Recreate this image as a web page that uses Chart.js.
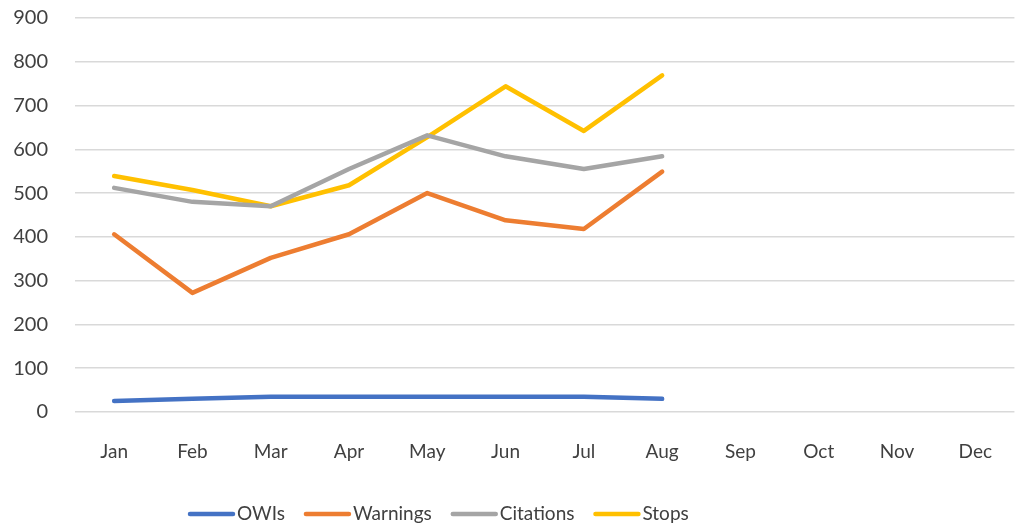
<!DOCTYPE html>
<html>
<head>
<meta charset="utf-8">
<script src="https://cdn.jsdelivr.net/npm/chart.js@4/dist/chart.umd.min.js"></script>
<style>
  html, body { margin: 0; padding: 0; background: #fff; }
  #wrap { width: 1020px; height: 527px; }
</style>
</head>
<body>
<div id="wrap"><canvas id="lineChart" width="1020" height="527"></canvas></div>
<script>
const months = ['Jan', 'Feb', 'Mar', 'Apr', 'May', 'Jun', 'Jul', 'Aug', 'Sep', 'Oct', 'Nov', 'Dec'];
const owis = [25, 30, 35, 35, 35, 35, 35, 30];
const warnings = [406, 272, 352, 406, 500, 438, 418, 549];
const citations = [512, 480, 470, 555, 632, 584, 555, 584];
const stops = [539, 507, 470, 518, 628, 744, 642, 769];

const font = "Lato, 'Open Sans', 'DejaVu Sans', sans-serif";
const textColor = '#404040';

function line(label, data, color) {
    return {
        label: label,
        data: data,
        borderColor: color,
        backgroundColor: color,
        borderWidth: 4.5,
        borderCapStyle: 'round',
        borderJoinStyle: 'round',
        pointRadius: 0,
        tension: 0,
        fill: false
    };
}

// legend drawn under the plot, left of centre like the original
const bottomLegend = {
    id: 'bottomLegend',
    afterDraw(chart) {
        const ctx = chart.ctx;
        let x = 188;
        const y = 514;
        ctx.save();
        ctx.font = '19px ' + font;
        ctx.textBaseline = 'middle';
        ctx.textAlign = 'left';
        chart.data.datasets.forEach(ds => {
            ctx.strokeStyle = ds.borderColor;
            ctx.lineWidth = 4.5;
            ctx.lineCap = 'round';
            ctx.beginPath();
            ctx.moveTo(x + 2, y);
            ctx.lineTo(x + 45, y);
            ctx.stroke();
            ctx.fillStyle = textColor;
            ctx.fillText(ds.label, x + 49, y);
            x += 49 + ctx.measureText(ds.label).width + 19;
        });
        ctx.restore();
    }
};

var lineChart = new Chart(document.getElementById('lineChart'), {
    type: 'line',
    data: {
        labels: months,
        datasets: [
            line('OWIs', owis, '#4472C4'),
            line('Warnings', warnings, '#ED7D31'),
            line('Citations', citations, '#A5A5A5'),
            line('Stops', stops, '#FFC000')
        ]
    },
    plugins: [bottomLegend],
    options: {
        responsive: false,
        animation: false,
        layout: { padding: { left: 0, right: 0, top: 0, bottom: 55 } },
        plugins: {
            tooltip: { enabled: false },
            legend: { display: false }
        },
        scales: {
            x: {
                offset: true,
                grid: { display: false, drawTicks: false },
                border: { display: false },
                ticks: { color: textColor, padding: 28, font: { family: font, size: 19 } },
                afterFit: s => { s.height = 60; }
            },
            y: {
                min: 0,
                max: 900,
                ticks: { stepSize: 100, color: textColor, padding: 27, font: { family: font, size: 20 } },
                grid: { color: '#d9d9d9', lineWidth: 1.5, drawTicks: false },
                border: { display: false },
                afterFit: s => { s.width = 75; s.paddingTop = 18; s.paddingBottom = 0; }
            }
        }
    }
});
</script>
</body>
</html>
